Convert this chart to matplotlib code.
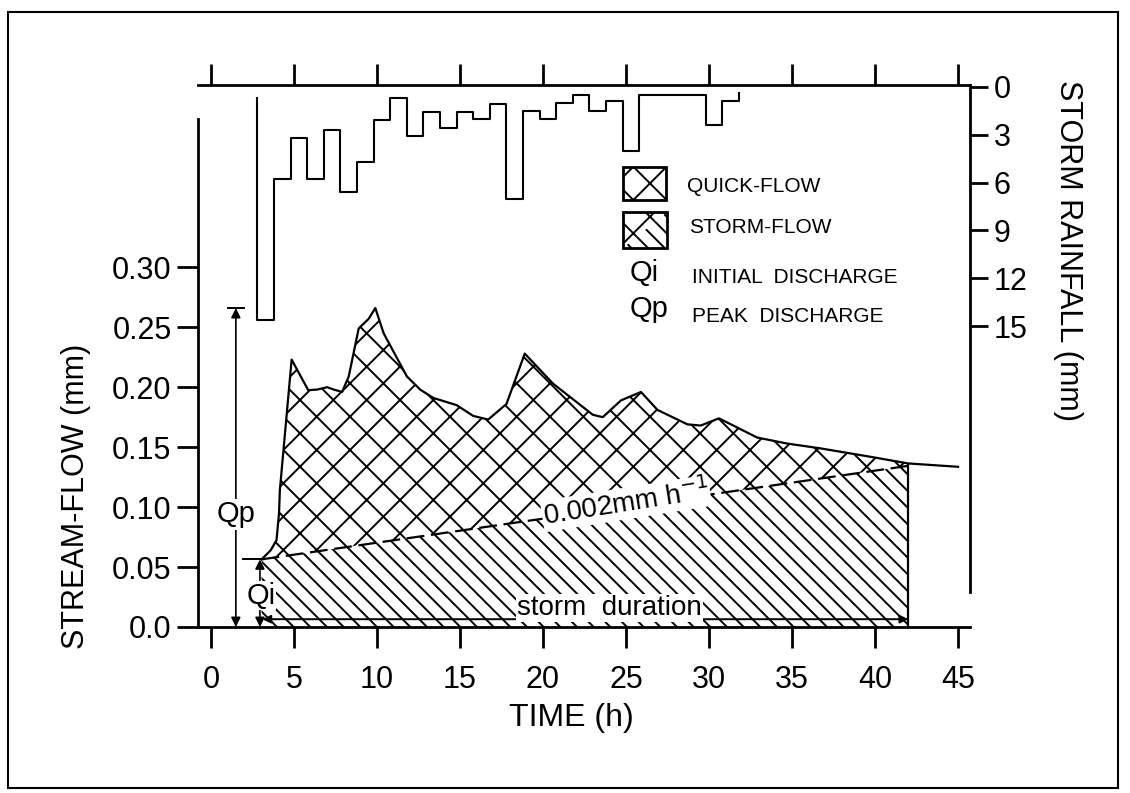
import matplotlib
matplotlib.use('Agg')
import matplotlib.pyplot as plt
from matplotlib.patches import Rectangle, Polygon

plt.rcParams['font.family'] = ['Liberation Sans', 'DejaVu Sans']
plt.rcParams['hatch.linewidth'] = 1.4

# storm rainfall, hourly blocks (step-post): time (h), rainfall (mm)
rain_time = [2.8, 2.8, 3.8, 4.8, 5.8, 6.8, 7.8, 8.8, 9.8, 10.8, 11.8, 12.8, 13.8,
             14.8, 15.8, 16.8, 17.8, 18.8, 19.8, 20.8, 21.8, 22.8, 23.8, 24.8,
             25.8, 29.8, 30.8, 31.8]
rain_mm = [0.7, 14.6, 5.8, 3.2, 5.8, 2.7, 6.6, 4.7, 2.1, 0.7, 3.1, 1.6, 2.6,
           1.6, 2.0, 1.1, 7.0, 1.5, 2.0, 1.0, 0.5, 1.5, 0.9, 4.0,
           0.5, 2.4, 0.9, 0.4]

# stream-flow hydrograph
flow_time = [3.05, 3.6, 3.95, 4.1, 4.15, 4.86, 5.86, 6.4, 7.0, 7.4, 7.9, 8.3, 8.9,
             9.5, 9.9, 10.4, 11.8, 12.6, 13.4, 14.8, 15.8, 16.7, 17.8, 18.9, 20.6,
             23.0, 23.6, 24.7, 25.9, 26.9, 28.7, 29.5, 30.6, 32.9, 34.7, 36.7,
             39.7, 42.0, 45.0]
flow_mm = [0.0564, 0.064, 0.0725, 0.095, 0.114, 0.223, 0.1975, 0.198, 0.200, 0.198,
           0.196, 0.209, 0.249, 0.257, 0.266, 0.245, 0.209, 0.198, 0.191, 0.185,
           0.176, 0.173, 0.186, 0.228, 0.203, 0.177, 0.175, 0.189, 0.196, 0.181,
           0.169, 0.168, 0.174, 0.158, 0.153, 0.149, 0.142, 0.1364, 0.1336]

# quick-flow separation line (0.002 mm/h)
sep_time = [3.05, 42.0]
sep_flow = [0.0564, 0.1344]

qp_value = 0.266
qi_value = 0.0564
storm_end = 42.0

x_ticks = [0, 5, 10, 15, 20, 25, 30, 35, 40, 45]
y_ticks = [0.0, 0.05, 0.10, 0.15, 0.20, 0.25, 0.30]
y_labels = ['0.0', '0.05', '0.10', '0.15', '0.20', '0.25', '0.30']
rain_ticks = [0, 3, 6, 9, 12, 15]

W, H = 1130, 793
fig = plt.figure(figsize=(W / 100, H / 100), dpi=100)
ax = fig.add_axes([198 / W, 1 - 627 / H, 772 / W, 542 / H])
ax2 = ax.twinx()

end = flow_time.index(storm_end)
storm_x = flow_time[:end + 1] + [storm_end, sep_time[0]]
storm_y = flow_mm[:end + 1] + [0, 0]
quick_x = flow_time[:end + 1] + sep_time[::-1]
quick_y = flow_mm[:end + 1] + sep_flow[::-1]

ax.fill(storm_x, storm_y, facecolor='white', edgecolor='black', hatch='\\\\', lw=0, zorder=1)
ax.fill(quick_x, quick_y, facecolor='white', edgecolor='black', hatch='x', lw=0, zorder=2)
ax.plot(flow_time, flow_mm, color='black', lw=1.6, zorder=3)
ax.plot(sep_time, sep_flow, color='black', lw=1.6, ls=(0, (8, 3)), zorder=3)
ax.vlines(storm_end, 0, flow_mm[end], color='black', lw=1.6, zorder=3)

# Qp and Qi arrows
arrow = dict(arrowstyle='<|-|>', color='black', lw=1.2, shrinkA=0, shrinkB=0, mutation_scale=14)
ax.annotate('', xy=(1.5, qp_value), xytext=(1.5, 0), arrowprops=arrow, zorder=4)
ax.plot([1.0, 2.0], [qp_value, qp_value], color='black', lw=1.4)
ax.text(1.5, 0.094, 'Qp', fontsize=21, ha='center', va='center',
        bbox=dict(facecolor='white', edgecolor='none', pad=1), zorder=5)
ax.annotate('', xy=(2.95, qi_value), xytext=(2.95, 0), arrowprops=arrow, zorder=4)
ax.plot([1.95, 3.05], [qi_value, qi_value], color='black', lw=1.4)
ax.text(3.0, 0.026, 'Qi', fontsize=21, ha='center', va='center',
        bbox=dict(facecolor='white', edgecolor='none', pad=0.5), zorder=5)

ax.annotate('', xy=(storm_end, 0.0065), xytext=(3.1, 0.0065),
            arrowprops=dict(arrowstyle='<|-|>', color='black', lw=1.4,
                            shrinkA=0, shrinkB=0, mutation_scale=12), zorder=4)
ax.text(24.0, 0.016, 'storm  duration', fontsize=20, ha='center', va='center',
        bbox=dict(facecolor='white', edgecolor='none', pad=0.5), zorder=5)
ax.text(25.0, 0.103, '0.002mm h$^{-1}$', fontsize=20, ha='center', va='center',
        rotation=9, bbox=dict(facecolor='white', edgecolor='none', pad=0.5), zorder=5)

ax.set_xlim(-0.78, 45.72)
ax.set_ylim(0, 0.452)
ax.set_xticks(x_ticks)
ax.set_yticks(y_ticks)
ax.set_yticklabels(y_labels)
ax.tick_params(axis='x', which='both', top=True, direction='out', length=15, width=2,
               labelsize=22, pad=12)
ax.tick_params(axis='y', direction='out', length=15, width=2, labelsize=22, pad=4)
for s in ['left', 'bottom', 'top']:
    ax.spines[s].set_linewidth(2)
ax.spines['right'].set_visible(False)
ax.spines['left'].set_bounds(0, 0.424)

ax.set_xlabel('TIME (h)', fontsize=23, ha='center', va='center')
ax.xaxis.set_label_coords((571 - 198) / 772, (627 - 718) / 542)
ax.set_ylabel('STREAM-FLOW (mm)', fontsize=22, ha='center', va='center')
ax.yaxis.set_label_coords((76 - 198) / 772, (627 - 496) / 542)

# rainfall hyetograph on inverted right axis
ax2.plot(rain_time, rain_mm, drawstyle='steps-post', color='black', lw=1.5)
ax2.set_ylim(33.8, -0.1)
ax2.set_yticks(rain_ticks)
ax2.tick_params(axis='y', direction='out', length=13, width=2, labelsize=22, pad=4)
for s in ['left', 'bottom', 'top']:
    ax2.spines[s].set_visible(False)
ax2.spines['right'].set_linewidth(2)
ax2.spines['right'].set_bounds(-0.1, 31.6)
ax2.set_ylabel('STORM RAINFALL (mm)', fontsize=22, rotation=270, ha='center', va='center')
ax2.yaxis.set_label_coords((1068 - 198) / 772, (627 - 250) / 542)

# key
def px(x, y):
    return (x / W, 1 - y / H)

fig.add_artist(Rectangle(px(623, 200), 43 / W, 33 / H, transform=fig.transFigure,
                         facecolor='white', edgecolor='black', hatch='x', lw=2))
corners = [px(623, 248), px(623, 212), px(667, 212)]
fig.add_artist(Polygon(corners, closed=True, transform=fig.transFigure,
                       facecolor='white', edgecolor='black', hatch='x', lw=0))
corners = [px(623, 248), px(667, 212), px(667, 248)]
fig.add_artist(Polygon(corners, closed=True, transform=fig.transFigure,
                       facecolor='white', edgecolor='black', hatch='\\\\', lw=0))
fig.add_artist(Rectangle(px(623, 248), 44 / W, 36 / H, transform=fig.transFigure,
                         facecolor='none', edgecolor='black', lw=2))

fig.text(*px(687, 187), 'QUICK-FLOW', fontsize=15, va='center')
fig.text(*px(689, 227), 'STORM-FLOW', fontsize=15, va='center')
fig.text(*px(630, 273), 'Qi', fontsize=21, va='center')
fig.text(*px(692, 277), 'INITIAL  DISCHARGE', fontsize=15, va='center')
fig.text(*px(630, 309), 'Qp', fontsize=21, va='center')
fig.text(*px(692, 317), 'PEAK  DISCHARGE', fontsize=15, va='center')

# outer frame
fig.add_artist(Rectangle((8 / W, 5 / H), 1110 / W, 776 / H, transform=fig.transFigure,
                         facecolor='none', edgecolor='black', lw=1.5))

fig.savefig('out.png', dpi=100)
